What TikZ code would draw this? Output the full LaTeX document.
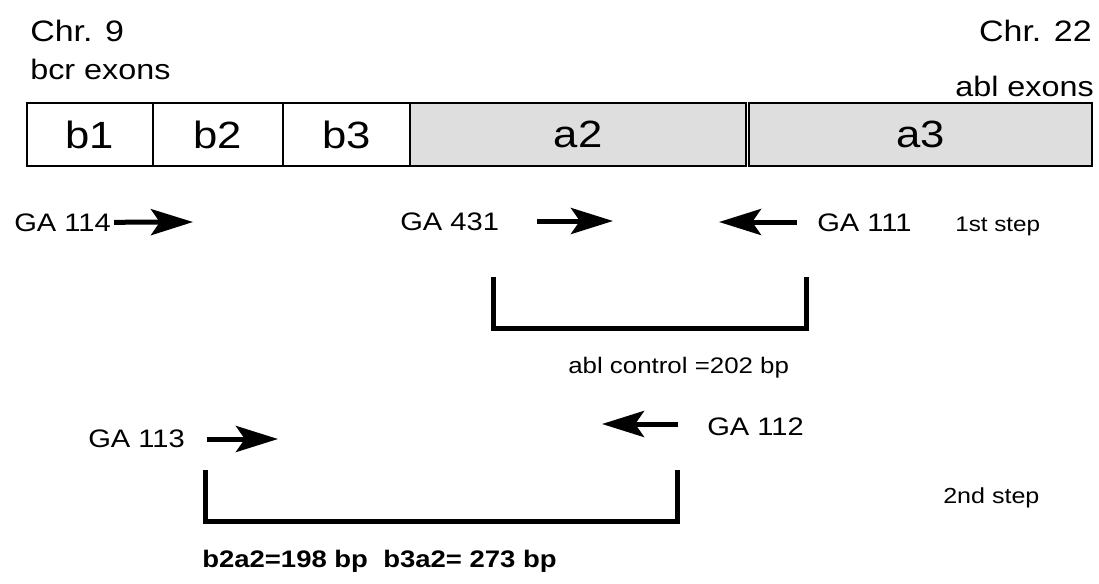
\documentclass[tikz,border=0pt]{standalone}
\usepackage{fontspec}
\setmainfont{Liberation Sans}[FakeStretch=1.15]
\usetikzlibrary{arrows.meta}
\newcommand{\txtsize}[1]{\fontsize{#1}{#1}\selectfont}

\begin{document}
\begin{tikzpicture}[x=0.25mm, y=-0.25mm,
  exon/.style={draw, line width=0.45mm, minimum height=15.75mm, inner sep=0pt, font=\txtsize{27pt}},
  ablexon/.style={exon, fill=black!13},
  lab/.style={anchor=base west, inner sep=0pt, font=\txtsize{18pt}},
  primer/.style={line width=1.25mm, -{Stealth[length=10.5mm, width=6.5mm, inset=2.2mm]}},
  product/.style={line width=1.25mm}]
  \useasboundingbox (0,0) rectangle (1099,583);

  % chromosome headers
  \node[lab, font=\txtsize{21pt}] (chr9) at (30,42) {Chr. 9};
  \node[lab, font=\txtsize{20pt}] (bcr) at (30,80) {bcr exons};
  \node[lab, anchor=base east, font=\txtsize{21pt}] (chr22) at (1092,42) {Chr. 22};
  \node[lab, anchor=base east, font=\txtsize{20pt}] (ablx) at (1094,96) {abl exons};

  % exons
  \node[exon, minimum width=31.5mm] (b1) at (90,134.5) {b1};
  \node[exon, minimum width=32.5mm] (b2) at (218,134.5) {b2};
  \node[exon, minimum width=31.75mm] (b3) at (346.5,134.5) {b3};
  \node[ablexon, minimum width=84mm] (a2) at (578,134.5) {a2};
  \node[ablexon, minimum width=85.75mm] (a3) at (920.5,134.5) {a3};

  % 1st step primers
  \node[lab] (ga114) at (14,231) {GA 114};
  \node[lab] (ga431) at (400,230) {GA 431};
  \node[lab] (ga111) at (817,231) {GA 111};
  \node[lab, font=\txtsize{15pt}] (step1) at (955,231) {1st step};
  \coordinate (t114) at (193,222);
  \coordinate (s431) at (537,221);
  \coordinate (t431) at (613,221);
  \coordinate (s111) at (797,222);
  \coordinate (t111) at (719,222);
  \draw[primer] (ga114.east) ++(3,0) coordinate (s114) -- (t114);
  \draw[primer] (s431) -- (t431);
  \draw[primer] (s111) -- (t111);

  % abl control product
  \coordinate (c1) at (493,277);
  \coordinate (c2) at (806,277);
  \draw[product] (c1) -- (c1 |- 0,328) -- (c2 |- 0,328) -- (c2);
  \node[lab, font=\txtsize{16pt}] (ctrl) at (568,373) {abl control =202 bp};

  % 2nd step primers
  \node[lab] (ga113) at (88,447) {GA 113};
  \node[lab] (ga112) at (707,435) {GA 112};
  \node[lab, font=\txtsize{15.5pt}] (step2) at (943,503) {2nd step};
  \coordinate (s113) at (207,439);
  \coordinate (t113) at (278,439);
  \coordinate (s112) at (678,424);
  \coordinate (t112) at (602,424);
  \draw[primer] (s113) -- (t113);
  \draw[primer] (s112) -- (t112);

  % bcr-abl product
  \coordinate (d1) at (205,470);
  \coordinate (d2) at (677,470);
  \draw[product] (d1) -- (d1 |- 0,521) -- (d2 |- 0,521) -- (d2);
  \node[lab, font=\bfseries\txtsize{17pt}] (fusion) at (202,567) {b2a2=198 bp\ \ b3a2= 273 bp};
\end{tikzpicture}
\end{document}
